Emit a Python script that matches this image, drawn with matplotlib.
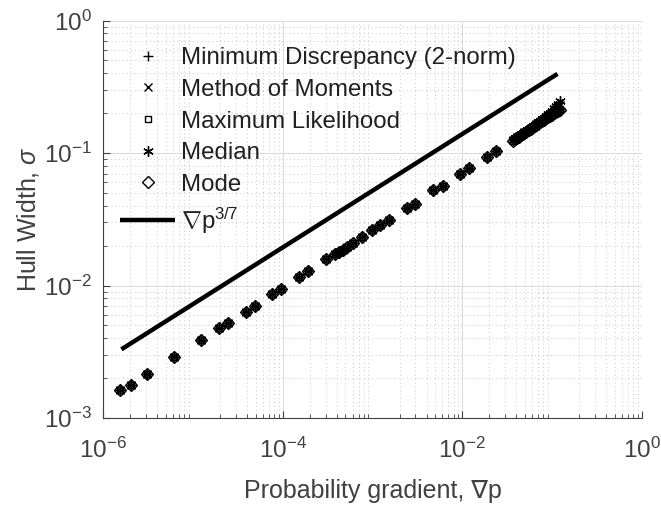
import numpy as np
import matplotlib
matplotlib.use('Agg')
import matplotlib.pyplot as plt

plt.rcParams['font.family'] = ['Liberation Sans', 'DejaVu Sans']
plt.rcParams['mathtext.fontset'] = 'custom'
plt.rcParams['mathtext.rm'] = 'Liberation Sans'
plt.rcParams['mathtext.it'] = 'Liberation Sans:italic'
plt.rcParams['axes.unicode_minus'] = False

# probability gradient (x)
grad_p = [1.54e-6, 2.06e-6, 3.08e-6, 6.17e-6, 1.22e-5, 1.94e-5, 2.45e-5, 3.91e-5,
          4.93e-5, 7.67e-5, 9.66e-5, 1.52e-4, 1.92e-4, 3.02e-4, 3.81e-4, 4.26e-4,
          4.72e-4, 5.22e-4, 6.10e-4, 7.64e-4, 1.00e-3, 1.21e-3, 1.53e-3, 2.41e-3,
          2.99e-3, 4.78e-3, 6.03e-3, 9.51e-3, 1.20e-2, 1.89e-2, 2.36e-2,
          0.037, 0.039, 0.041, 0.043, 0.045, 0.047, 0.049, 0.052, 0.055, 0.058,
          0.061, 0.064, 0.067, 0.070, 0.074, 0.078, 0.082, 0.086, 0.090, 0.095,
          0.100, 0.106, 0.112, 0.118, 0.124]

# hull width, common part (all estimators overlap here)
width_common = [1.63e-3, 1.79e-3, 2.15e-3, 2.87e-3, 3.88e-3, 4.75e-3, 5.24e-3, 6.34e-3,
                7.05e-3, 8.63e-3, 9.46e-3, 1.16e-2, 1.28e-2, 1.58e-2, 1.73e-2, 1.80e-2,
                1.87e-2, 1.96e-2, 2.10e-2, 2.31e-2, 2.62e-2, 2.84e-2, 3.12e-2, 3.83e-2,
                4.12e-2, 5.26e-2, 5.64e-2, 6.95e-2, 7.67e-2, 9.38e-2, 0.104]

# dense cluster at large gradients, per estimator
tail_mindisc = [0.125, 0.128, 0.131, 0.134, 0.137, 0.140, 0.143, 0.147, 0.150, 0.154,
                0.158, 0.161, 0.165, 0.168, 0.172, 0.176, 0.180, 0.184, 0.188, 0.192,
                0.197, 0.202, 0.207, 0.212, 0.217]
tail_moments = [0.125, 0.128, 0.131, 0.134, 0.137, 0.140, 0.143, 0.147, 0.150, 0.154,
                0.158, 0.161, 0.165, 0.168, 0.172, 0.176, 0.181, 0.186, 0.191, 0.196,
                0.202, 0.208, 0.215, 0.222, 0.230]
tail_maxlik = [0.124, 0.127, 0.130, 0.133, 0.136, 0.139, 0.142, 0.146, 0.149, 0.153,
               0.157, 0.160, 0.164, 0.167, 0.171, 0.175, 0.179, 0.183, 0.187, 0.191,
               0.196, 0.200, 0.205, 0.210, 0.214]
tail_median = [0.126, 0.129, 0.132, 0.135, 0.138, 0.141, 0.144, 0.148, 0.151, 0.155,
               0.159, 0.163, 0.167, 0.171, 0.175, 0.180, 0.185, 0.190, 0.196, 0.202,
               0.209, 0.217, 0.226, 0.236, 0.248]
tail_mode = [0.124, 0.127, 0.130, 0.133, 0.136, 0.139, 0.142, 0.146, 0.149, 0.153,
             0.157, 0.160, 0.164, 0.167, 0.171, 0.175, 0.179, 0.183, 0.187, 0.191,
             0.195, 0.200, 0.204, 0.209, 0.213]

# reference power law line endpoints
line_x = [1.6e-6, 0.115]
line_y = [3.3e-3, 0.396]

labels = ['Minimum Discrepancy (2-norm)', 'Method of Moments', 'Maximum Likelihood',
          'Median', 'Mode']
tails = [tail_mindisc, tail_moments, tail_maxlik, tail_median, tail_mode]
markers = ['+', 'x', 's', (6, 2, 0), 'D']
msizes = [7, 5.5, 5, 7.5, 6.5]

fig = plt.figure(figsize=(6.61, 5.07), dpi=100)
ax = fig.add_axes([0.156, 0.1755, 0.815, 0.784])

for lab, tail, m, ms in zip(labels, tails, markers, msizes):
    ax.plot(grad_p, width_common + tail, linestyle='none', marker=m, ms=ms,
            mfc='none', mec='black', mew=1.0, label=lab)

ax.plot(line_x, line_y, color='black', lw=3.2, solid_capstyle='butt',
        label=r'$\nabla\mathrm{p}^{3/7}$')

ax.set_xscale('log')
ax.set_yscale('log')
ax.set_xlim(1e-6, 1)
ax.set_ylim(1e-3, 1)
ax.set_xticks([1e-6, 1e-4, 1e-2, 1])

ax.grid(True, which='major', color='#dcdcdc', lw=0.8, ls='-')
ax.grid(True, which='minor', color='#c8c8c8', lw=0.7, ls=(0, (1, 3)))
ax.set_axisbelow(True)

for s in ['top', 'right']:
    ax.spines[s].set_visible(False)
for s in ['left', 'bottom']:
    ax.spines[s].set_color('#404040')
    ax.spines[s].set_linewidth(0.8)

ax.tick_params(which='both', direction='in', colors='#404040', labelsize=17.5,
               top=False, right=False)
ax.tick_params(which='major', length=5)
ax.tick_params(which='minor', length=3)
ax.tick_params(axis='x', which='major', pad=14)
ax.tick_params(axis='y', which='major', pad=8)

ax.set_xlabel('Probability gradient, ∇p', fontsize=18, color='#404040', labelpad=12)
ax.set_ylabel(r'Hull Width, $\sigma$', fontsize=18, color='#404040', labelpad=2)

leg = ax.legend(loc='upper left', frameon=False, fontsize=17.3, handlelength=2.3,
                handletextpad=0.25, labelspacing=0.40, borderaxespad=0.3,
                bbox_to_anchor=(0.0, 0.975))
for t in leg.get_texts():
    t.set_color('#202020')

plt.savefig('out.png', dpi=100)
